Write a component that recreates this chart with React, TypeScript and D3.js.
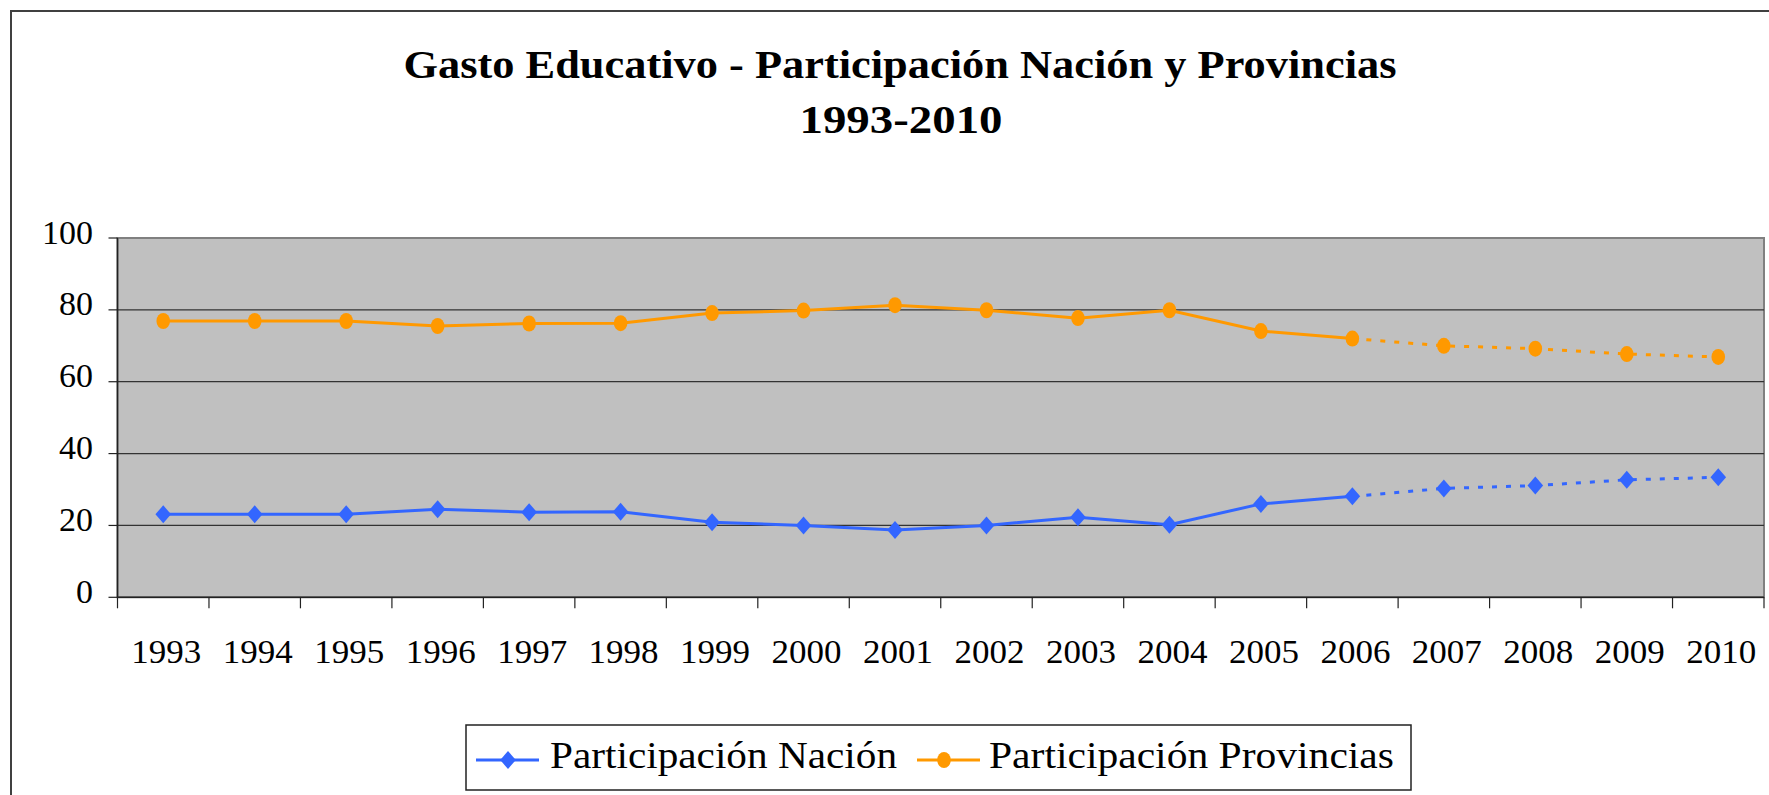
import React from 'react';
import * as d3 from 'd3';

// Data
const years = ['1993', '1994', '1995', '1996', '1997', '1998', '1999', '2000', '2001',
  '2002', '2003', '2004', '2005', '2006', '2007', '2008', '2009', '2010'];
const nacion = [23.1, 23.1, 23.1, 24.5, 23.7, 23.8, 20.9, 20.0, 18.7,
  20.0, 22.3, 20.2, 26.0, 28.1, 30.3, 31.1, 32.7, 33.4];
const provincias = [76.9, 76.9, 76.9, 75.5, 76.2, 76.3, 79.1, 79.8, 81.3,
  79.9, 77.7, 79.9, 74.1, 72.0, 70.0, 69.2, 67.7, 66.9];
const yTicks = [0, 20, 40, 60, 80, 100];
const projectedFrom = '2006'; // dotted from here on

const titleLines = ['Gasto Educativo - Participación Nación y Provincias', '1993-2010'];
const legendLabels = ['Participación Nación', 'Participación Provincias'];

const W = 1769;
const H = 795;
const margin = { top: 238, right: 5, bottom: 198, left: 117.5 };
const BLUE = '#3366FF';
const ORANGE = '#FF9900';
const FONT = '"Liberation Serif", "Times New Roman", serif';

const x = d3.scaleBand<string>().domain(years).range([margin.left, W - margin.right]);
const y = d3.scaleLinear().domain([0, 100]).range([H - margin.bottom + 0.3, margin.top]);

const Diamond = ({ cx, cy }: { cx: number; cy: number }) => (
  <path d={`M${cx},${cy - 9} L${cx + 7.8},${cy} L${cx},${cy + 9} L${cx - 7.8},${cy} Z`} fill={BLUE} />
);
const Dot = ({ cx, cy }: { cx: number; cy: number }) => (
  <ellipse cx={cx} cy={cy} rx={6.8} ry={8} fill={ORANGE} />
);

const App = () => {
  const cx = (yr: string) => (x(yr) as number) + x.bandwidth() / 2;
  const line = d3.line<[string, number]>().x(d => cx(d[0])).y(d => y(d[1]));
  const split = years.indexOf(projectedFrom);

  const series = [
    { values: nacion, color: BLUE, Marker: Diamond },
    { values: provincias, color: ORANGE, Marker: Dot },
  ];

  const plotTop = y(100);
  const plotBottom = y(0);
  const plotLeft = margin.left;
  const plotRight = W - margin.right;

  return (
    <svg width={W} height={H} style={{ position: 'absolute', left: 0, top: 0, background: '#fff' }}>
      {/* chart frame */}
      <rect x={11} y={11} width={W} height={H} fill="none" stroke="#404040" strokeWidth={2} />

      {/* title */}
      <text x={900} y={78} textAnchor="middle" fontFamily={FONT} fontWeight="bold" fontSize={40}
        textLength={993} lengthAdjust="spacingAndGlyphs">{titleLines[0]}</text>
      <text x={901} y={133} textAnchor="middle" fontFamily={FONT} fontWeight="bold" fontSize={40}
        textLength={203} lengthAdjust="spacingAndGlyphs">{titleLines[1]}</text>

      {/* plot area */}
      <rect x={plotLeft} y={plotTop} width={plotRight - plotLeft} height={plotBottom - plotTop}
        fill="#C0C0C0" stroke="#808080" strokeWidth={2} />
      {yTicks.filter(t => t > 0 && t < 100).map(t => (
        <line key={t} x1={plotLeft} x2={plotRight} y1={y(t)} y2={y(t)} stroke="#333" strokeWidth={1.2} />
      ))}

      {/* y axis */}
      <line x1={plotLeft} x2={plotLeft} y1={plotTop} y2={plotBottom} stroke="#222" strokeWidth={1.5} />
      {yTicks.map(t => (
        <g key={t}>
          <line x1={plotLeft - 9} x2={plotLeft} y1={y(t)} y2={y(t)} stroke="#222" strokeWidth={1.2} />
          <text x={93} y={y(t) + 5.5} textAnchor="end" fontFamily={FONT} fontSize={34}>{t}</text>
        </g>
      ))}

      {/* x axis */}
      <line x1={plotLeft} x2={plotRight} y1={plotBottom} y2={plotBottom} stroke="#222" strokeWidth={1.5} />
      {years.concat(['end']).map((yr, i) => {
        const tx = i < years.length ? (x(yr) as number) : plotRight;
        return <line key={yr} x1={tx} x2={tx} y1={plotBottom} y2={plotBottom + 11} stroke="#222" strokeWidth={1.2} />;
      })}
      {years.map(yr => (
        <text key={yr} x={cx(yr) + 3} y={663} textAnchor="middle" fontFamily={FONT} fontSize={34}
          textLength={70} lengthAdjust="spacingAndGlyphs">{yr}</text>
      ))}

      {/* series */}
      {series.map(({ values, color, Marker }, si) => {
        const pts: [string, number][] = years.map((yr, i) => [yr, values[i]]);
        return (
          <g key={si}>
            <path d={line(pts.slice(0, split + 1)) ?? ''} fill="none" stroke={color} strokeWidth={3} />
            <path d={line(pts.slice(split)) ?? ''} fill="none" stroke={color} strokeWidth={3}
              strokeDasharray="5,9" />
            {pts.map(p => <Marker key={p[0]} cx={cx(p[0])} cy={y(p[1])} />)}
          </g>
        );
      })}

      {/* legend */}
      <rect x={466} y={725} width={945} height={65} fill="#fff" stroke="#222" strokeWidth={1.5} />
      <line x1={476} x2={539} y1={760} y2={760} stroke={BLUE} strokeWidth={3} />
      <Diamond cx={508} cy={760} />
      <text x={550} y={768} fontFamily={FONT} fontSize={38}
        textLength={347} lengthAdjust="spacingAndGlyphs">{legendLabels[0]}</text>
      <line x1={917} x2={980} y1={760} y2={760} stroke={ORANGE} strokeWidth={3} />
      <Dot cx={944} cy={760} />
      <text x={989} y={768} fontFamily={FONT} fontSize={38}
        textLength={405} lengthAdjust="spacingAndGlyphs">{legendLabels[1]}</text>
    </svg>
  );
};

export default App;
